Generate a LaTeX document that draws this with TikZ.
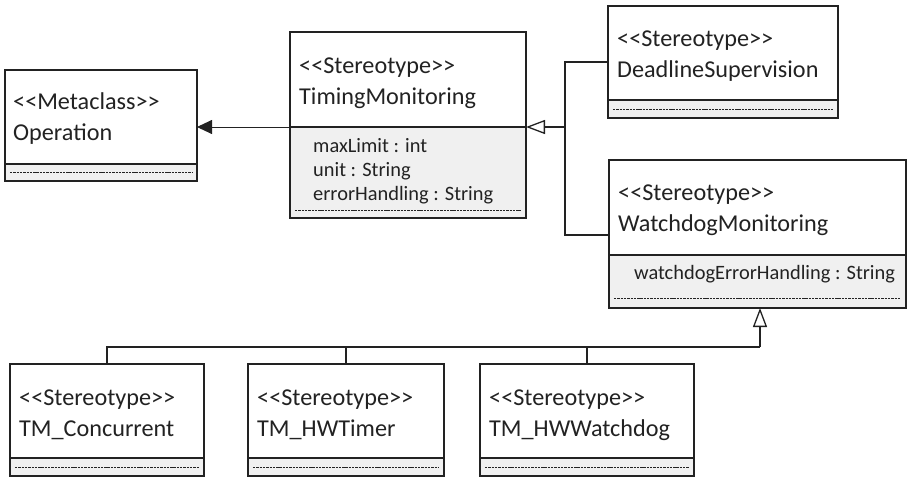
\documentclass[tikz,border=0pt]{standalone}
\usepackage{fontspec}
\newfontfamily\umlfont{Carlito}
\usetikzlibrary{arrows.meta,calc}
\definecolor{umlline}{HTML}{222222}
\definecolor{umlfill}{HTML}{F0F0F0}
\tikzset{
  box/.style={draw=umlline, line width=1.6pt, anchor=north west, inner sep=0pt, outer sep=0pt},
  head/.style={box, fill=white},
  comp/.style={box, fill=umlfill},
  title/.style={anchor=west, inner sep=0pt, align=left, text=umlline,
    font=\umlfont\fontsize{24.2}{31}\selectfont},
  attr/.style={anchor=north west, inner sep=0pt, align=left, text=umlline,
    font=\umlfont\fontsize{20.4}{24}\selectfont},
  dashline/.style={draw=umlline, line width=1pt, dash pattern=on 2.4pt off 0.9pt},
  conn/.style={draw=umlline, line width=1.4pt},
  gen/.style={conn, -{Triangle[open, length=19pt, width=14pt, line width=1.3pt]}},
  assoc/.style={draw=umlline, line width=0.9pt, -{Triangle[length=15pt, width=14pt]}}
}
\begin{document}
\begin{tikzpicture}[x=1pt, y=-1pt]
  \useasboundingbox (0,0) rectangle (907,477);

  % Operation metaclass
  \node[head, minimum width=192pt, minimum height=94pt] (oph) at (5,70) {};
  \node[comp, minimum width=192pt, minimum height=17pt] (opa) at (oph.south west) {};
  \node[title] (opt) at ([xshift=8pt,yshift=-2pt]oph.west) {<<Metaclass>>\\Operation};
  \draw[dashline] ([xshift=5pt]opa.west) -- ([xshift=-5pt]opa.east);

  % TimingMonitoring
  \node[head, minimum width=236pt, minimum height=95pt] (tmh) at (290,32) {};
  \node[comp, minimum width=236pt, minimum height=91pt] (tma) at (tmh.south west) {};
  \node[title] (tmt) at ([xshift=9pt,yshift=-4pt]tmh.west) {<<Stereotype>>\\TimingMonitoring};
  \node[attr] (tmx) at ([xshift=23pt,yshift=-11pt]tma.north west)
    {maxLimit : int\\unit : String\\errorHandling : String};
  \draw[dashline] ([xshift=5pt,yshift=8pt]tma.south west) -- ([xshift=-5pt,yshift=8pt]tma.south east);

  % DeadlineSupervision
  \node[head, minimum width=230pt, minimum height=94pt] (dsh) at (608,6) {};
  \node[comp, minimum width=230pt, minimum height=18pt] (dsa) at (dsh.south west) {};
  \node[title] (dst) at ([xshift=9pt,yshift=-3pt]dsh.west) {<<Stereotype>>\\DeadlineSupervision};
  \draw[dashline] ([xshift=5pt]dsa.west) -- ([xshift=-5pt]dsa.east);

  % WatchdogMonitoring
  \node[head, minimum width=297pt, minimum height=95pt] (wmh) at (609,160) {};
  \node[comp, minimum width=297pt, minimum height=53pt] (wma) at (wmh.south west) {};
  \node[title] (wmt) at ([xshift=9pt,yshift=-2.5pt]wmh.west) {<<Stereotype>>\\WatchdogMonitoring};
  \node[attr] (wmx) at ([xshift=25pt,yshift=-10pt]wma.north west) {watchdogErrorHandling : String};
  \draw[dashline] ([xshift=5pt,yshift=10pt]wma.south west) -- ([xshift=-5pt,yshift=10pt]wma.south east);

  % Specialised watchdog stereotypes
  \node[head, minimum width=194pt, minimum height=94pt] (c1h) at (10,364) {};
  \node[comp, minimum width=194pt, minimum height=18pt] (c1a) at (c1h.south west) {};
  \node[title] (c1t) at ([xshift=9pt,yshift=-4pt]c1h.west) {<<Stereotype>>\\TM\_Concurrent};
  \draw[dashline] ([xshift=5pt]c1a.west) -- ([xshift=-5pt]c1a.east);

  \node[head, minimum width=196pt, minimum height=94pt] (c2h) at (248,364) {};
  \node[comp, minimum width=196pt, minimum height=18pt] (c2a) at (c2h.south west) {};
  \node[title] (c2t) at ([xshift=9pt,yshift=-4pt]c2h.west) {<<Stereotype>>\\TM\_HWTimer};
  \draw[dashline] ([xshift=5pt]c2a.west) -- ([xshift=-5pt]c2a.east);

  \node[head, minimum width=214pt, minimum height=94pt] (c3h) at (480,364) {};
  \node[comp, minimum width=214pt, minimum height=18pt] (c3a) at (c3h.south west) {};
  \node[title] (c3t) at ([xshift=9pt,yshift=-4pt]c3h.west) {<<Stereotype>>\\TM\_HWWatchdog};
  \draw[dashline] ([xshift=5pt]c3a.west) -- ([xshift=-5pt]c3a.east);

  % Extension of the metaclass
  \draw[assoc] (tmh.south west) -- (tmh.south west -| oph.east);

  % Generalisation into TimingMonitoring
  \coordinate (j1) at (565,127);
  \draw[conn] ([yshift=-9pt]dsh.west) -| (j1) |- ([yshift=-27.5pt]wmh.west);
  \draw[gen] (j1) -- (tmh.south east);

  % Generalisation into WatchdogMonitoring
  \coordinate (bus) at (760,347);
  \draw[gen] (bus) -- (bus |- wma.south);
  \draw[conn] (c1h.north) |- (bus);
  \draw[conn] (c2h.north) -- (c2h.north |- bus);
  \draw[conn] (c3h.north) -- (c3h.north |- bus);
\end{tikzpicture}
\end{document}
